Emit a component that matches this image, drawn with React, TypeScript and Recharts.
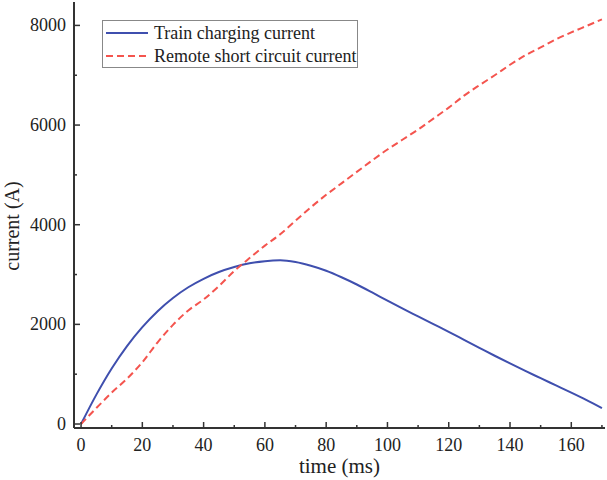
import { LineChart, Line, XAxis, YAxis, Legend } from 'recharts';

const times = [0, 5, 10, 15, 20, 25, 30, 35, 40, 45, 50, 55, 60, 65, 70, 75, 80, 85, 90, 95, 100, 105, 110, 115, 120, 125, 130, 135, 140, 145, 150, 155, 160, 165, 170];
const trainCurrent = [0, 590, 1115, 1565, 1945, 2265, 2530, 2745, 2915, 3050, 3150, 3225, 3268, 3285, 3250, 3175, 3075, 2945, 2800, 2640, 2475, 2315, 2160, 2005, 1850, 1690, 1530, 1370, 1215, 1065, 920, 775, 630, 480, 320];
const remoteCurrent = [0, 320, 630, 910, 1240, 1640, 1990, 2280, 2500, 2770, 3070, 3330, 3580, 3810, 4080, 4350, 4600, 4830, 5060, 5290, 5510, 5710, 5910, 6130, 6350, 6590, 6800, 7000, 7210, 7400, 7560, 7720, 7860, 7990, 8120];

const xTicks = [0, 10, 20, 30, 40, 50, 60, 70, 80, 90, 100, 110, 120, 130, 140, 150, 160, 170];
const yTicks = [0, 1000, 2000, 3000, 4000, 5000, 6000, 7000, 8000];

const data = times.map((t, i) => ({ t, train: trainCurrent[i], remote: remoteCurrent[i] }));

const FONT = '"Liberation Serif", "Times New Roman", serif';
const AXIS = '#333';
const BLUE = '#3f4fae';
const RED = '#f4544e';

const XTick = (props: any) => {
  const { x, y, payload } = props;
  const major = payload.value % 20 === 0;
  return (
    <g>
      <line x1={x} x2={x} y1={y} y2={y - (major ? 6 : 3)} stroke={AXIS} strokeWidth={1.5} />
      {major && (
        <text x={x} y={y + 17} textAnchor="middle" dominantBaseline="central" fontFamily={FONT} fontSize={18} fill="#222">
          {payload.value}
        </text>
      )}
    </g>
  );
};

const YTick = (props: any) => {
  const { x, y, payload } = props;
  const major = payload.value % 2000 === 0;
  return (
    <g>
      <line x1={x} x2={x + (major ? 6 : 3)} y1={y} y2={y} stroke={AXIS} strokeWidth={1.5} />
      {major && (
        <text x={x - 8} y={y} textAnchor="end" dominantBaseline="central" fontFamily={FONT} fontSize={18} fill="#222">
          {payload.value}
        </text>
      )}
    </g>
  );
};

const LegendBox = () => (
  <div
    style={{
      border: '1px solid #888',
      background: '#fff',
      width: 254,
      height: 46,
      fontFamily: FONT,
      fontSize: 18,
      color: '#222',
      boxSizing: 'content-box',
    }}
  >
    {[
      { label: 'Train charging current', color: BLUE, dash: undefined },
      { label: 'Remote short circuit current', color: RED, dash: '7 4' },
    ].map((item) => (
      <div key={item.label} style={{ display: 'flex', alignItems: 'center', height: 22, marginTop: 1 }}>
        <svg width={48} height={10} style={{ marginLeft: 3 }}>
          <line x1={0} x2={42} y1={5} y2={5} stroke={item.color} strokeWidth={2} strokeDasharray={item.dash} />
        </svg>
        <span style={{ lineHeight: '22px', whiteSpace: 'nowrap' }}>{item.label}</span>
      </div>
    ))}
  </div>
);

export default function App() {
  return (
    <div style={{ position: 'absolute', left: 0, top: 0, background: '#fff' }}>
      <LineChart width={607} height={480} data={data} margin={{ top: 2, right: 2, bottom: 2, left: 8 }}>
        <XAxis
          dataKey="t"
          type="number"
          domain={[-2.3, 171]}
          ticks={xTicks}
          interval={0}
          tickSize={0}
          tickMargin={0}
          tickLine={false}
          tick={<XTick />}
          height={50}
          axisLine={{ stroke: AXIS, strokeWidth: 2 }}
          label={{
            content: ({ viewBox }: any) => (
              <text
                x={viewBox.x + viewBox.width / 2}
                y={viewBox.y + 38}
                textAnchor="middle"
                dominantBaseline="central"
                fontFamily={FONT}
                fontSize={21}
                fill="#222"
              >
                time (ms)
              </text>
            ),
          }}
        />
        <XAxis xAxisId="top" orientation="top" dataKey="t" type="number" domain={[-2.3, 171]} tick={false} tickLine={false} height={0} axisLine={{ stroke: AXIS, strokeWidth: 2 }} />
        <YAxis
          type="number"
          domain={[-80, 8470]}
          ticks={yTicks}
          interval={0}
          tickSize={0}
          tickMargin={0}
          tickLine={false}
          tick={<YTick />}
          width={66}
          axisLine={{ stroke: AXIS, strokeWidth: 2 }}
          label={{
            content: ({ viewBox }: any) => {
              const cx = viewBox.x + 4;
              const cy = viewBox.y + viewBox.height / 2 + 11;
              return (
                <text
                  x={cx}
                  y={cy}
                  transform={`rotate(-90 ${cx} ${cy})`}
                  textAnchor="middle"
                  dominantBaseline="central"
                  fontFamily={FONT}
                  fontSize={20}
                  fill="#222"
                >
                  current (A)
                </text>
              );
            },
          }}
        />
        <YAxis yAxisId="right" orientation="right" domain={[-80, 8470]} tick={false} tickLine={false} width={0} axisLine={{ stroke: AXIS, strokeWidth: 2 }} />
        <Legend
          layout="horizontal"
          verticalAlign="middle"
          align="center"
          wrapperStyle={{ left: 102, top: 20, width: 'auto', height: 'auto' }}
          content={<LegendBox />}
        />
        <Line type="monotone" dataKey="train" stroke={BLUE} strokeWidth={2} dot={false} isAnimationActive={false} />
        <Line type="monotone" dataKey="remote" stroke={RED} strokeWidth={2} strokeDasharray="7 4" dot={false} isAnimationActive={false} />
      </LineChart>
    </div>
  );
}
